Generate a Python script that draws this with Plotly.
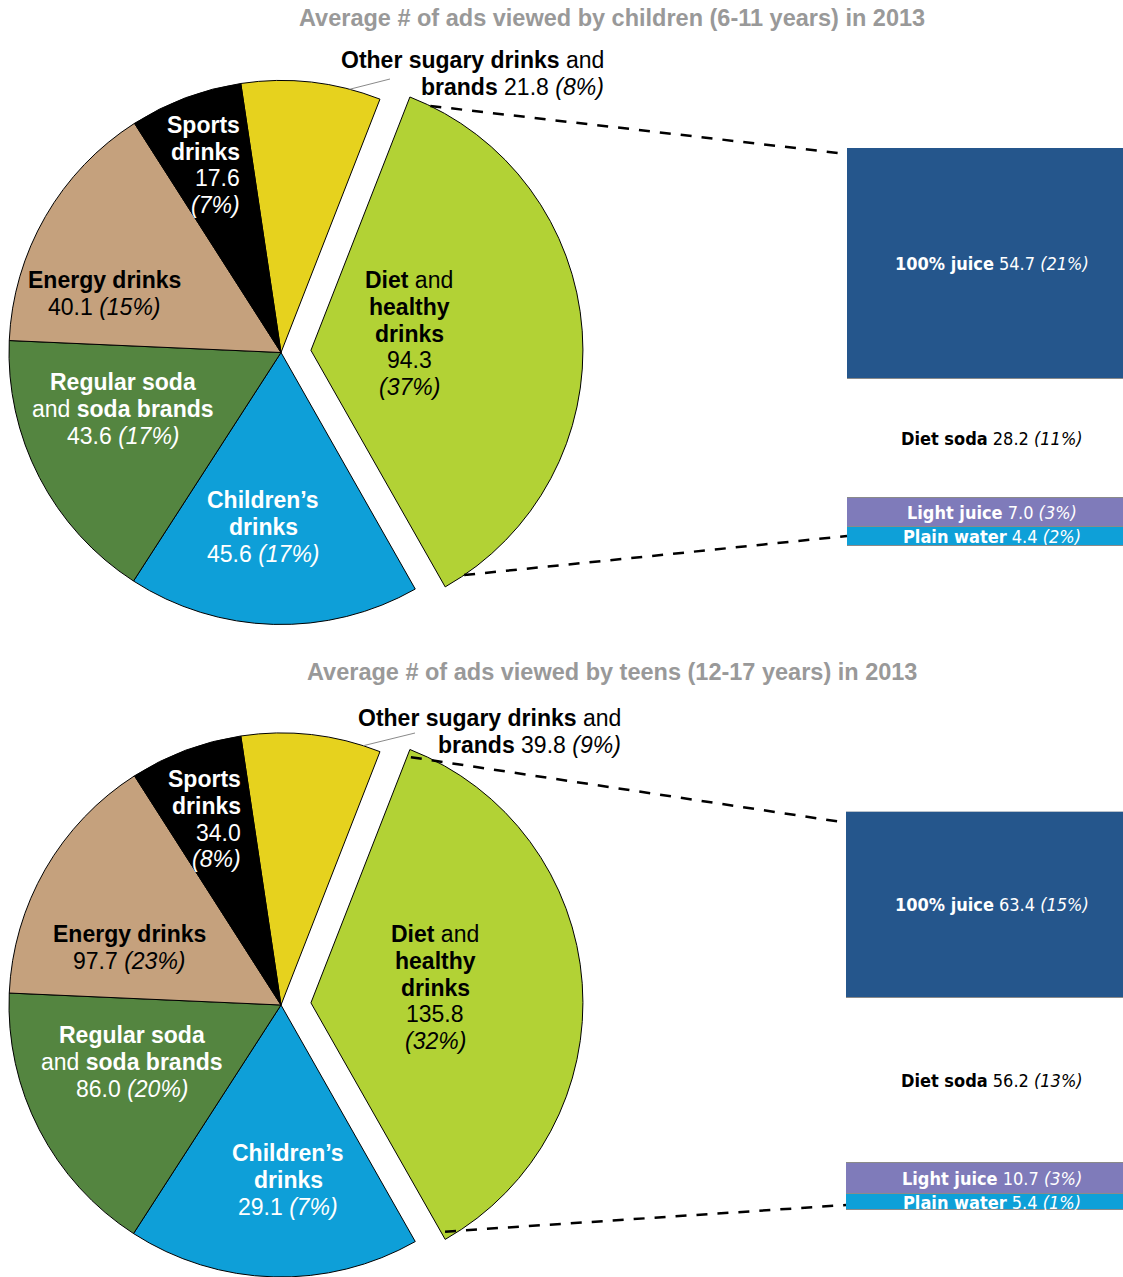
import math
import plotly.graph_objects as go

W, H = 1123, 1277

# ---- data ----
slices = ["Other sugary drinks and brands", "Diet and healthy drinks", "Children's drinks",
          "Regular soda and soda brands", "Energy drinks", "Sports drinks"]
children_values = [21.8, 94.3, 45.6, 43.6, 40.1, 17.6]
children_pct = [8, 37, 17, 17, 15, 7]
teens_values = [39.8, 135.8, 29.1, 86.0, 97.7, 34.0]
teens_pct = [9, 32, 7, 20, 23, 8]
# the reference draws the teens pie with the very same slice shapes as the children pie
teens_drawn = children_values

diet_parts = ["100% juice", "Diet soda", "Light juice", "Plain water"]
children_diet = [54.7, 28.2, 7.0, 4.4]
children_diet_pct = [21, 11, 3, 2]
teens_diet = [63.4, 56.2, 10.7, 5.4]
teens_diet_pct = [15, 13, 3, 1]

titles = ["Average # of ads viewed by children (6-11 years) in 2013",
          "Average # of ads viewed by teens (12-17 years) in 2013"]

# ---- style ----
PIE_COLORS = ["#e6d21e", "#b2d235", "#0e9fd8", "#548540", "#c5a17d", "#000000"]
BAR_COLORS = ["#25568c", "#ffffff", "#7f7bba", "#0ea0d8"]
BAR_TEXT = ["white", "black", "white", "white"]
CLEAR = "rgba(0,0,0,0)"
SANS = "Liberation Sans, Arial, sans-serif"
NARROW = "Liberation Sans Narrow, DejaVu Sans Condensed, Arial Narrow, sans-serif"
R = 272          # pie radius, px
PULL = 30        # explode distance of the diet slice, px
ROT = -8.5       # start angle of first slice
STEP = 26.75     # line spacing of pie labels, px
DIET = 1

panels = [
    dict(values=children_values, drawn=children_values, pct=children_pct,
         diet=children_diet, diet_pct=children_diet_pct, title_y=18,
         center=(281, 352.5), bar_x0=847, bar_y=(148, 546),
         conn_inset=4.7, conn_rf=1.0, conn_off=(6, -10),
         leader=(14.6, 390, 79),
         labels={0: ("right", 606, 60), 5: ("right", 242, 125), 4: ("center", 104, 280),
                 3: ("center", 123, 382), 2: ("center", 263, 500), 1: ("center", 409, 280)}),
    dict(values=teens_values, drawn=teens_drawn, pct=teens_pct,
         diet=teens_diet, diet_pct=teens_diet_pct, title_y=672,
         center=(281, H - R), bar_x0=846, bar_y=(811.7, 1210),
         conn_inset=0.8, conn_rf=0.975, conn_off=(11, -5),
         leader=(17.6, 415, 733),
         labels={0: ("right", 623, 718), 5: ("right", 243, 779), 4: ("center", 129, 934),
                 3: ("center", 132, 1035), 2: ("center", 288, 1153), 1: ("center", 435, 934)}),
]


def px(x, y):
    return x / W, 1 - y / H


def pie_domain(cx, cy):
    return dict(x=[max(0, (cx - R) / W), min(1, (cx + R) / W)],
                y=[max(0, 1 - (cy + R) / H), min(1, 1 - (cy - R) / H)])


def arc_point(cx, cy, ang, rf=1.0):
    a = math.radians(ang)
    return cx + rf * R * math.sin(a), cy - rf * R * math.cos(a)


def label_lines(i, v, p):
    num = f"{v:.1f}"
    pc = f"<i>({p}%)</i>"
    return {
        0: ["<b>Other sugary drinks</b> and", f"<b>brands</b> {num} {pc}"],
        1: ["<b>Diet</b> and", "<b>healthy</b>", "<b>drinks</b>", num, pc],
        2: ["<b>Children’s</b>", "<b>drinks</b>", f"{num} {pc}"],
        3: ["<b>Regular soda</b>", "and <b>soda brands</b>", f"{num} {pc}"],
        4: ["<b>Energy drinks</b>", f"{num} {pc}"],
        5: ["<b>Sports</b>", "<b>drinks</b>", num, pc],
    }[i]


LABEL_COLORS = ["black", "black", "white", "white", "black", "white"]

fig = go.Figure()
annotations, shapes = [], []

for k, pn in enumerate(panels):
    cx, cy = pn["center"]
    drawn = pn["drawn"]
    total = sum(drawn)
    diet_start = ROT + 360 * sum(drawn[:DIET]) / total
    diet_span = 360 * drawn[DIET] / total
    mid = math.radians(diet_start + diet_span / 2)
    sx, sy = cx + PULL * math.sin(mid), cy - PULL * math.cos(mid)
    hover = [f"{s}: {v}" for s, v in zip(slices, pn["values"])]

    # pie without the diet slice
    fig.add_trace(go.Pie(
        labels=slices, values=drawn, sort=False, direction="clockwise", rotation=ROT,
        domain=pie_domain(cx, cy), textinfo="none", hovertext=hover, hoverinfo="text",
        marker=dict(colors=[CLEAR if i == DIET else c for i, c in enumerate(PIE_COLORS)],
                    line=dict(color="black", width=[0 if i == DIET else 1 for i in range(6)])),
        showlegend=False,
    ))
    # exploded diet slice
    fig.add_trace(go.Pie(
        labels=slices, values=drawn, sort=False, direction="clockwise", rotation=ROT,
        domain=pie_domain(sx, sy), textinfo="none", hovertext=hover, hoverinfo="text",
        marker=dict(colors=[c if i == DIET else CLEAR for i, c in enumerate(PIE_COLORS)],
                    line=dict(color="black", width=[1 if i == DIET else 0 for i in range(6)])),
        showlegend=False,
    ))

    # stacked bar of the diet breakdown
    xa = "x" if k == 0 else "x2"
    ya = "y" if k == 0 else "y2"
    bar_total = sum(pn["diet"])
    base = 0
    for j in reversed(range(len(diet_parts))):
        v = pn["diet"][j]
        fig.add_trace(go.Bar(
            x=[0], y=[v], width=1, xaxis=xa, yaxis=ya, name=diet_parts[j],
            marker=dict(color=BAR_COLORS[j], line=dict(color="#8a8a8a", width=1)),
            showlegend=False, hovertemplate=f"{diet_parts[j]}: {v}<extra></extra>",
        ))
        annotations.append(dict(
            x=0, y=base + v / 2, xref=xa, yref=ya, showarrow=False,
            xanchor="center", yanchor="middle",
            text=f"<b>{diet_parts[j]}</b> {v:.1f} <i>({pn['diet_pct'][j]}%)</i>",
            font=dict(family=NARROW, size=18, color=BAR_TEXT[j]),
        ))
        base += v
    by0, by1 = pn["bar_y"]
    axis_suffix = "" if k == 0 else "2"
    fig.update_layout(**{
        f"xaxis{axis_suffix}": dict(domain=[pn["bar_x0"] / W, 1], range=[-0.5, 0.45],
                                    visible=False, fixedrange=True),
        f"yaxis{axis_suffix}": dict(domain=[1 - by1 / H, 1 - by0 / H], range=[0, bar_total],
                                    visible=False, fixedrange=True),
    })

    # dashed connectors from the exploded slice to the bar
    top = arc_point(sx, sy, diet_start + pn["conn_inset"], pn["conn_rf"])
    bot = arc_point(sx, sy, diet_start + diet_span - pn["conn_inset"], pn["conn_rf"])
    ends = [(pn["bar_x0"], by0 + pn["conn_off"][0]), (pn["bar_x0"], by1 + pn["conn_off"][1])]
    for (x0, y0), (x1, y1) in zip([top, bot], ends):
        p0, p1 = px(x0, y0), px(x1, y1)
        shapes.append(dict(type="line", xref="paper", yref="paper",
                           x0=p0[0], y0=p0[1], x1=p1[0], y1=p1[1],
                           line=dict(color="black", width=2.5, dash="11px,10px")))

    # leader line for the small yellow slice
    ang, lx, ly = pn["leader"]
    p0 = px(*arc_point(cx, cy, ang))
    p1 = px(lx, ly)
    shapes.append(dict(type="line", xref="paper", yref="paper",
                       x0=p0[0], y0=p0[1], x1=p1[0], y1=p1[1],
                       line=dict(color="#8a8a8a", width=1)))

    # title
    tx, ty = px(612, pn["title_y"])
    annotations.append(dict(x=tx, y=ty, xref="paper", yref="paper", showarrow=False,
                            xanchor="center", yanchor="middle",
                            text=f"<b>{titles[k]}</b>",
                            font=dict(family=SANS, size=23.5, color="#999999")))

    # pie labels, one annotation per line to keep the tight leading
    for i, (anchor, lx, ly) in pn["labels"].items():
        lines = label_lines(i, pn["values"][i], pn["pct"][i])
        for n, line in enumerate(lines):
            ax, ay = px(lx, ly + n * STEP)
            annotations.append(dict(
                x=ax, y=ay, xref="paper", yref="paper", showarrow=False,
                xanchor=anchor, yanchor="middle", align=anchor, text=line,
                font=dict(family=SANS, size=23, color=LABEL_COLORS[i]),
            ))

fig.update_layout(
    width=W, height=H, margin=dict(l=0, r=0, t=0, b=0),
    paper_bgcolor="white", plot_bgcolor="white",
    barmode="stack", bargap=0,
    annotations=annotations, shapes=shapes,
)

fig.write_html("out.html", config={"displayModeBar": False},
               post_script="document.body.style.margin = '0';")
